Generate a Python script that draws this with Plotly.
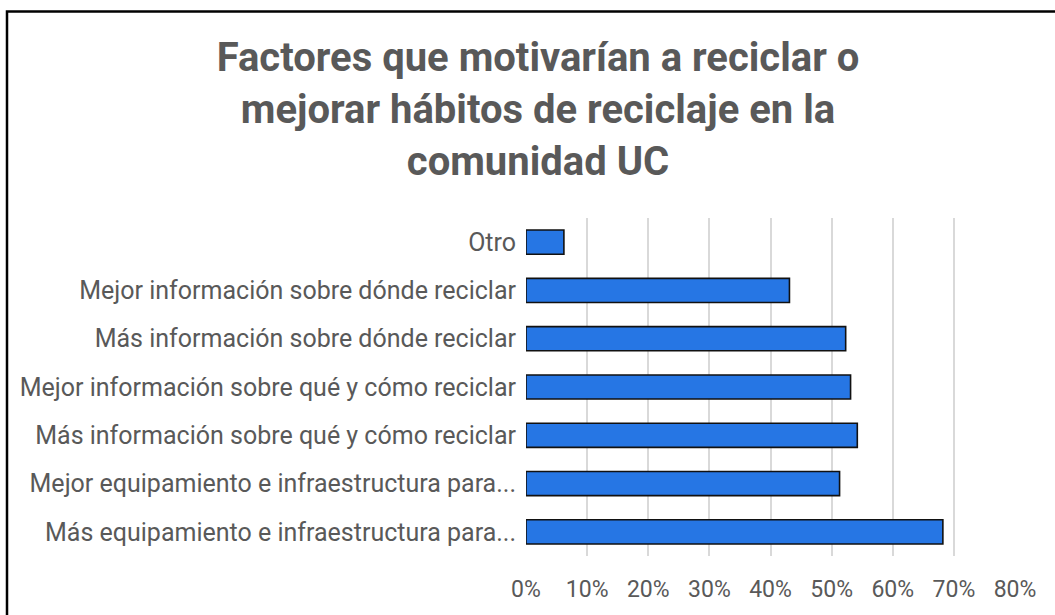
import plotly.graph_objects as go

categories = [
    "Más equipamiento e infraestructura para...",
    "Mejor equipamiento e infraestructura para...",
    "Más información sobre qué y cómo reciclar",
    "Mejor información sobre qué y cómo reciclar",
    "Más información sobre dónde reciclar",
    "Mejor información sobre dónde reciclar",
    "Otro",
]
values = [0.682, 0.513, 0.542, 0.531, 0.523, 0.431, 0.062]
tick_vals = [0, 0.1, 0.2, 0.3, 0.4, 0.5, 0.6, 0.7, 0.8]
tick_text = ["0%", "10%", "20%", "30%", "40%", "50%", "60%", "70%", "80%"]
title_text = "Factores que motivarían a reciclar o<br>mejorar hábitos de reciclaje en la<br>comunidad UC"

W, H = 1055, 615
ml, mr, mt, mb = 526, 40, 218, 55
pw, ph = W - ml - mr, H - mt - mb

fig = go.Figure()
fig.add_trace(go.Bar(
    y=categories, x=values, orientation="h",
    marker=dict(color="#2676e4", line=dict(color="#111111", width=1.6)),
    width=0.5,
))

fig.update_layout(
    width=W, height=H,
    margin=dict(l=ml, r=mr, t=mt, b=mb),
    paper_bgcolor="white", plot_bgcolor="white",
    showlegend=False,
    title=dict(text=title_text, x=538 / W, xanchor="center", xref="container",
               y=1 - 71 / H, yanchor="top", yref="container",
               font=dict(family="Roboto", size=40, color="#595959", weight="bold")),
    font=dict(family="Roboto", color="#595959"),
    xaxis=dict(range=[0, 0.8], tickvals=tick_vals, ticktext=tick_text,
               showgrid=True, gridcolor="#d9d9d9", gridwidth=1.5,
               zeroline=False, showline=False,
               ticks="outside", ticklen=12, tickcolor="rgba(0,0,0,0)",
               tickfont=dict(family="Roboto", size=23, color="#595959")),
    yaxis=dict(categoryorder="array", categoryarray=categories,
               showgrid=False, zeroline=False, showline=False,
               ticks="outside", ticklen=4, tickcolor="rgba(0,0,0,0)",
               tickfont=dict(family="Roboto", size=25, color="#595959")),
)

# outer border (chart frame) drawn in paper coordinates
fig.add_shape(type="rect", xref="paper", yref="paper",
              x0=(7 - ml) / pw, x1=(W + 10 - ml) / pw,
              y0=-(H + 10 - mt - ph) / ph, y1=(mt + ph - 9) / ph,
              line=dict(color="black", width=2.5), fillcolor="rgba(0,0,0,0)", layer="below")

fig.write_html("out.html", config={"displayModeBar": False},
               post_script="document.body.style.margin='0px';")
